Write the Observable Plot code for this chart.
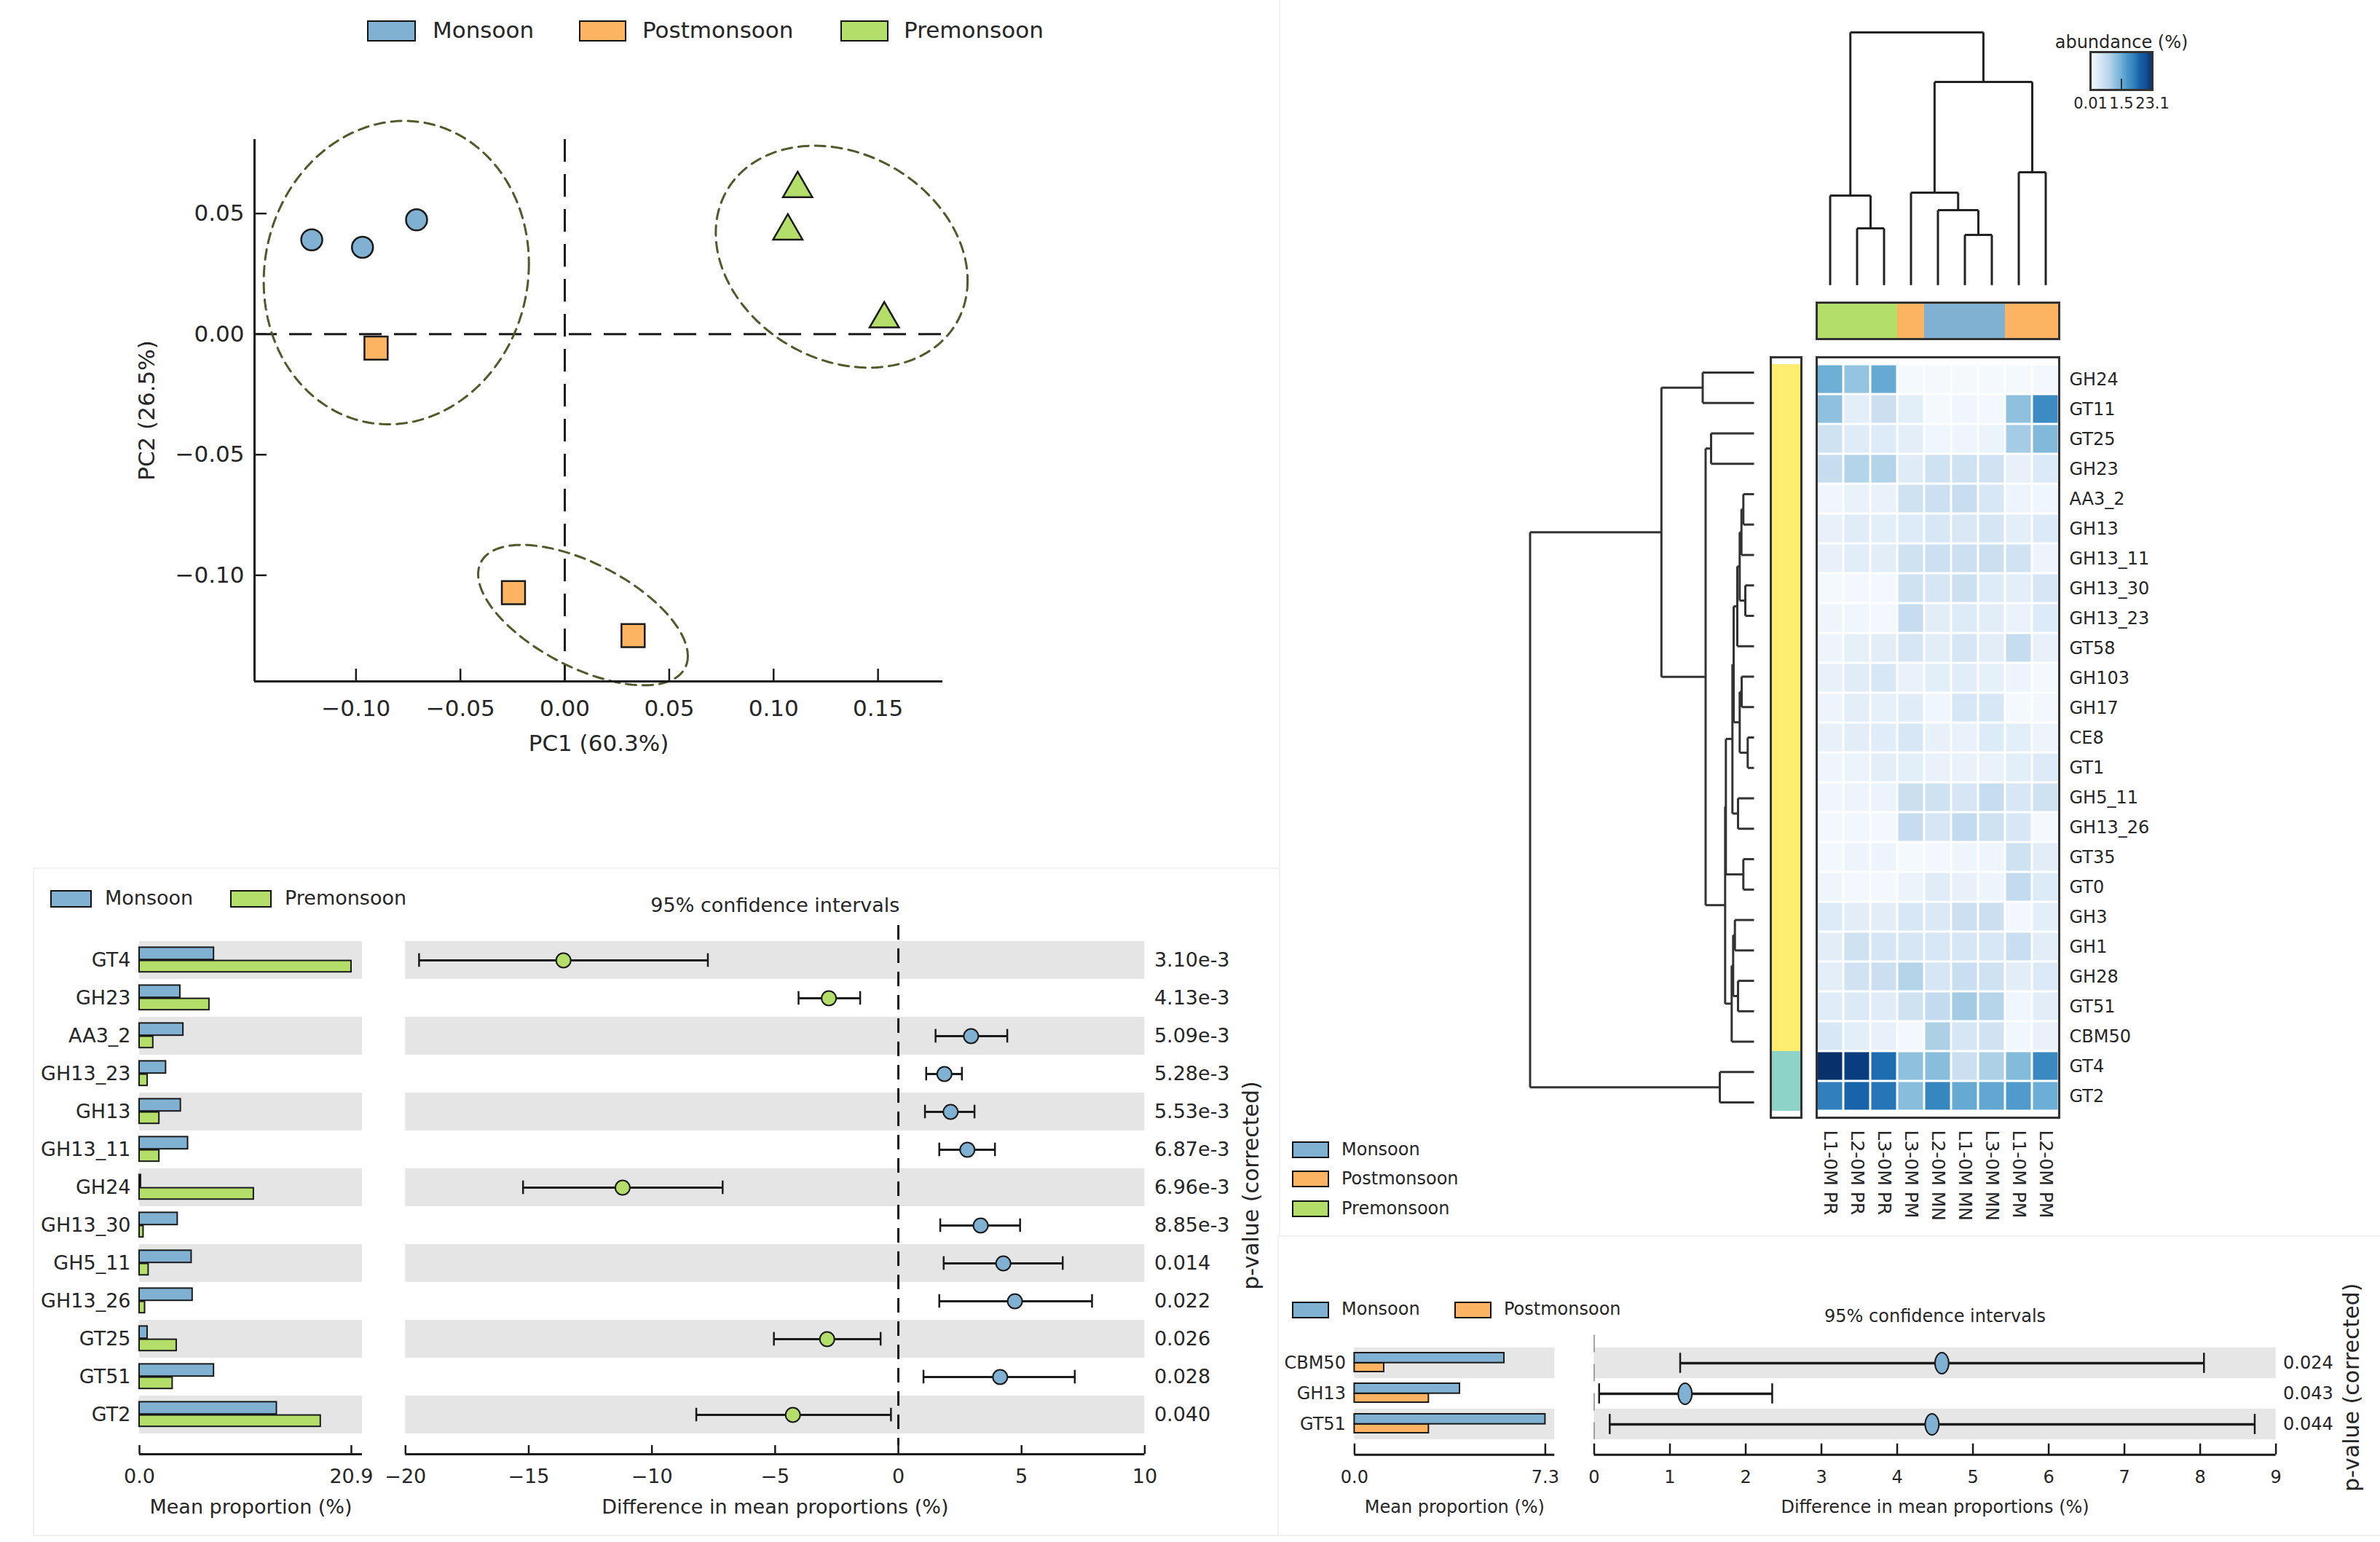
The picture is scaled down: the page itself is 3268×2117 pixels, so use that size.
<!DOCTYPE html>
<html><head><meta charset="utf-8">
<script src="https://cdn.jsdelivr.net/npm/d3@7"></script>
<script src="https://cdn.jsdelivr.net/npm/@observablehq/plot@0.6"></script>
<style>
html,body{margin:0;padding:0;background:#fff;overflow:hidden;}
#page{position:relative;width:3268px;height:2117px;overflow:hidden;font-family:"DejaVu Sans",sans-serif;color:#262626;}
#page svg{position:absolute;left:0;top:0;}
.sw{position:absolute;box-sizing:border-box;border:2.5px solid #111;}
.lt{position:absolute;white-space:nowrap;}
.fl{position:absolute;background:#f1f1f1;}
</style></head><body><div id="page"></div>
<script>
// ================= DATA =================
const seasons = ["Monsoon", "Postmonsoon", "Premonsoon"];
const seasonColors = ["#80b1d3", "#fdb462", "#b3de69"];

// --- PCA ---
const pcaGroup = ["Monsoon","Monsoon","Monsoon","Postmonsoon","Postmonsoon","Postmonsoon","Premonsoon","Premonsoon","Premonsoon"];
const pcaPC1 = [-0.1212, -0.0969, -0.0710, -0.0904, -0.0246, 0.0327, 0.1115, 0.1068, 0.1530];
const pcaPC2 = [0.0391, 0.0360, 0.0474, -0.0058, -0.1072, -0.1250, 0.0603, 0.0427, 0.0063];
const pcaXTicks = [-0.10, -0.05, 0, 0.05, 0.10, 0.15];
const pcaYTicks = [-0.10, -0.05, 0, 0.05];
const pcaXDomain = [-0.1486, 0.181];
const pcaYDomain = [-0.144, 0.0807];
// confidence ellipses: centre, half extents, phase (deg)
const ellCx = [-0.0807, 0.1326, 0.0087];
const ellCy = [0.0255, 0.0321, -0.1165];
const ellRx = [0.0635, 0.0603, 0.0502];
const ellRy = [0.0629, 0.0460, 0.0291];
const ellPhi = [93.4, 77.6, 54.3];

// --- Heatmap ---
const heatCols = ["L1-0M PR","L2-0M PR","L3-0M PR","L3-0M PM","L2-0M MN","L1-0M MN","L3-0M MN","L1-0M PM","L2-0M PM"];
const seasonCode = {PR: "Premonsoon", PM: "Postmonsoon", MN: "Monsoon"};
const heatRows = ["GH24","GT11","GT25","GH23","AA3_2","GH13","GH13_11","GH13_30","GH13_23","GT58","GH103","GH17","CE8","GT1","GH5_11","GH13_26","GT35","GT0","GH3","GH1","GH28","GT51","CBM50","GT4","GT2"];
const rowCluster = ["A","A","A","A","A","A","A","A","A","A","A","A","A","A","A","A","A","A","A","A","A","A","A","B","B"];
const clusterColors = ["#ffed6f", "#8dd3c7"];
const heatValues = [
  [11.5, 9.2, 12.0, 0.4, 0.3, 0.3, 0.4, 0.3, 0.5],
  [9.5, 2.3, 5.0, 2.4, 0.4, 0.9, 0.6, 9.5, 15.0],
  [4.6, 2.8, 3.0, 2.3, 0.9, 1.1, 1.4, 8.1, 10.4],
  [5.5, 7.0, 7.0, 2.8, 4.6, 4.6, 4.4, 1.8, 3.2],
  [0.9, 1.6, 1.6, 4.6, 4.9, 5.3, 3.7, 1.2, 0.9],
  [1.8, 2.7, 2.4, 3.0, 3.6, 3.4, 4.0, 2.3, 3.2],
  [1.8, 2.6, 2.5, 4.6, 4.9, 4.9, 5.0, 4.4, 1.2],
  [0.4, 0.5, 0.5, 4.6, 3.8, 4.9, 3.0, 2.3, 3.8],
  [1.0, 0.9, 0.6, 5.5, 2.5, 3.0, 2.5, 1.5, 3.0],
  [1.2, 2.0, 2.5, 3.8, 2.5, 3.8, 2.5, 5.5, 1.8],
  [1.8, 2.7, 3.6, 1.6, 2.4, 2.6, 2.0, 1.2, 0.4],
  [1.2, 2.3, 2.0, 2.7, 0.9, 3.6, 3.6, 0.4, 0.6],
  [1.8, 2.5, 2.7, 3.6, 1.8, 1.6, 3.0, 2.4, 1.2],
  [1.1, 1.4, 2.3, 2.4, 1.6, 1.6, 1.6, 2.4, 3.0],
  [0.9, 1.2, 1.4, 5.0, 4.6, 3.8, 5.5, 3.6, 4.6],
  [0.6, 0.8, 0.5, 5.5, 3.8, 5.8, 4.6, 3.6, 0.4],
  [0.6, 1.2, 1.2, 0.4, 0.6, 1.0, 1.0, 4.6, 2.5],
  [1.0, 0.6, 0.6, 1.3, 2.7, 1.8, 1.2, 5.8, 3.0],
  [3.0, 2.5, 2.5, 3.6, 3.3, 4.8, 5.0, 0.6, 2.4],
  [2.5, 4.6, 3.8, 3.8, 3.6, 3.8, 3.6, 5.2, 2.5],
  [2.3, 4.4, 5.0, 7.0, 3.8, 5.2, 4.6, 2.5, 3.2],
  [2.7, 3.2, 2.7, 4.6, 5.8, 8.2, 6.8, 0.9, 2.5],
  [3.6, 2.4, 1.8, 0.6, 7.5, 3.8, 4.4, 0.8, 1.6],
  [23.1, 21.9, 17.7, 9.5, 9.9, 5.0, 7.5, 10.2, 15.2],
  [16.0, 18.5, 17.0, 9.9, 15.5, 12.0, 12.3, 13.5, 11.6]
];
const heatDomain = [0.01, 23.1];
const legendTickValues = [0.01, 11.55, 23.1];
const legendTickLabels = ["0.01", "1.5", "23.1"];
// dendrogram merges: [child a, child b, height]; leaves are 0..n-1, new nodes n, n+1, ...
const colMerges = [[1,2,78],[0,9,123],[5,6,69],[4,11,103],[3,12,127],[7,8,155],[13,14,279],[10,15,347]];
const rowMerges = [
  [0,1,70.5],[2,3,59],[4,5,14.7],[27,6,17.3],[7,8,12],[28,29,19.7],[30,9,23],[10,11,17],[12,13,8.7],
  [32,33,19.7],[31,34,28],[14,15,22],[35,36,29.7],[16,17,14.7],[37,38,38.7],[18,19,26.3],[20,21,22],
  [40,41,28.7],[42,22,30.7],[39,43,39.7],[26,44,66.5],[25,45,127.2],[23,24,47],[46,47,307.5]
];

// --- STAMP: Monsoon vs Premonsoon ---
const stampRows = ["GT4","GH23","AA3_2","GH13_23","GH13","GH13_11","GH24","GH13_30","GH5_11","GH13_26","GT25","GT51","GT2"];
const meanMonsoon = [7.34, 4.02, 4.32, 2.61, 4.07, 4.78, 0.14, 3.76, 5.13, 5.23, 0.79, 7.34, 13.54];
const meanPremonsoon = [20.9, 6.89, 1.35, 0.79, 1.95, 1.95, 11.27, 0.39, 0.89, 0.54, 3.66, 3.26, 17.87];
const diffMean = [-13.59, -2.82, 2.95, 1.87, 2.12, 2.80, -11.19, 3.34, 4.26, 4.73, -2.89, 4.13, -4.28];
const ciLow = [-19.45, -4.05, 1.51, 1.13, 1.08, 1.66, -15.23, 1.70, 1.84, 1.66, -5.05, 1.02, -8.20];
const ciHigh = [-7.73, -1.55, 4.42, 2.58, 3.09, 3.92, -7.13, 4.94, 6.67, 7.86, -0.72, 7.16, -0.30];
const pValues = ["3.10e-3","4.13e-3","5.09e-3","5.28e-3","5.53e-3","6.87e-3","6.96e-3","8.85e-3","0.014","0.022","0.026","0.028","0.040"];
const barTicks = [0, 20.9];
const barDomain = [0, 21.98];
const ciTicks = [-20, -15, -10, -5, 0, 5, 10];
const ciDomain = [-20, 10];

// --- STAMP: Monsoon vs Postmonsoon ---
const stamp2Rows = ["CBM50","GH13","GT51"];
const mean2Monsoon = [5.73, 4.03, 7.30];
const mean2Postmonsoon = [1.13, 2.84, 2.84];
const diff2 = [4.59, 1.20, 4.46];
const ci2Low = [1.135, 0.065, 0.205];
const ci2High = [8.05, 2.35, 8.72];
const p2Values = ["0.024","0.043","0.044"];
const bar2Ticks = [0, 7.3];
const bar2Domain = [0, 7.66];
const ci2Ticks = [0, 1, 2, 3, 4, 5, 6, 7, 8, 9];
const ci2Domain = [0, 9];

// ================= HELPERS =================
const FONT = '"DejaVu Sans", "Liberation Sans", sans-serif';
const W = 3268, H = 2117;
const INK = "#1a1a1a";
const page = document.getElementById("page");
const colorOf = s => seasonColors[seasons.indexOf(s)];
function frame(l, t, r, b) { return {marginLeft: l, marginTop: t, marginRight: W - r, marginBottom: H - b}; }
function plot(opts) {
  const svg = Plot.plot({width: W, height: H, ...opts,
    style: {background: "transparent", fontFamily: FONT, color: "#262626", overflow: "visible"}});
  page.appendChild(svg);
  return svg;
}
function legendItem(x, y, w, h, label, textX, fs) {
  const s = document.createElement("div");
  s.className = "sw";
  Object.assign(s.style, {left: x + "px", top: y + "px", width: w + "px", height: h + "px", background: colorOf(label)});
  page.appendChild(s);
  const t = document.createElement("div");
  t.className = "lt";
  t.textContent = label;
  Object.assign(t.style, {left: textX + "px", top: (y + h / 2 - fs * 0.62) + "px", fontSize: fs + "px", lineHeight: (fs * 1.2) + "px"});
  page.appendChild(t);
}
function faint(x, y, w, h) {
  const d = document.createElement("div");
  d.className = "fl";
  Object.assign(d.style, {left: x + "px", top: y + "px", width: w + "px", height: h + "px"});
  page.appendChild(d);
}
function dendroSegments(nLeaves, merges) {
  const pos = d3.range(nLeaves), ht = Array(nLeaves).fill(0), segs = [];
  for (const [a, b, h] of merges) {
    segs.push({p1: pos[a], h1: ht[a], p2: pos[a], h2: h});
    segs.push({p1: pos[a], h1: h, p2: pos[b], h2: h});
    segs.push({p1: pos[b], h1: ht[b], p2: pos[b], h2: h});
    pos.push((pos[a] + pos[b]) / 2);
    ht.push(h);
  }
  return segs;
}
function axisPlot({left, right, y, domain, ticks, format, label, fs, tickLen, pad, labelDy}) {
  plot({...frame(left, y - tickLen, right, y), x: {domain}, y: {domain: [0, 1], axis: null},
    marks: [
      Plot.ruleX(ticks, {stroke: INK, strokeWidth: 2.5}),
      Plot.ruleY([0], {stroke: INK, strokeWidth: 3}),
      Plot.axisX({ticks, tickSize: 0, tickPadding: pad, tickFormat: format, fontSize: fs, label: null}),
      Plot.text([label], {frameAnchor: "bottom", dy: labelDy, fontSize: fs})
    ]});
}
const ellipseSymbol = {
  draw(ctx, size) {
    const r = Math.sqrt(size / Math.PI), rx = r * 0.65, ry = r, k = 0.5523;
    ctx.moveTo(rx, 0);
    ctx.bezierCurveTo(rx, k * ry, k * rx, ry, 0, ry);
    ctx.bezierCurveTo(-k * rx, ry, -rx, k * ry, -rx, 0);
    ctx.bezierCurveTo(-rx, -k * ry, -k * rx, -ry, 0, -ry);
    ctx.bezierCurveTo(k * rx, -ry, rx, -k * ry, rx, 0);
    ctx.closePath();
  }
};

// ================= FAINT PANEL BORDERS =================
faint(1756, 0, 2, 1697);
faint(1756, 1696, 1512, 2);
faint(45, 1191, 1711, 2);
faint(45, 1191, 2, 917);
faint(45, 2107, 3223, 2);
faint(1754, 1696, 2, 412);

// ================= PCA =================
const pcaData = pcaPC1.map((x, i) => ({x, y: pcaPC2[i], g: pcaGroup[i]}));
const ellPts = ellCx.flatMap((cx, k) => d3.range(0, 362, 2).map(a => {
  const t = a * Math.PI / 180;
  return {k, x: cx + ellRx[k] * Math.cos(t), y: ellCy[k] - ellRy[k] * Math.cos(t - ellPhi[k] * Math.PI / 180)};
}));
const fmt2 = d3.format(".2f");
plot({...frame(349, 191, 1294, 935),
  x: {domain: pcaXDomain}, y: {domain: pcaYDomain},
  color: {domain: seasons, range: seasonColors},
  marks: [
    Plot.ruleX([0], {stroke: INK, strokeWidth: 3, strokeDasharray: "31,17"}),
    Plot.ruleY([0], {stroke: INK, strokeWidth: 3, strokeDasharray: "31,17"}),
    Plot.line(ellPts, {x: "x", y: "y", z: "k", stroke: "#4e5a2a", strokeWidth: 3, strokeDasharray: "14,9"}),
    Plot.dot(pcaData, {filter: d => d.g === "Monsoon", x: "x", y: "y", fill: "g", r: 14.5, symbol: "circle", stroke: INK, strokeWidth: 2.5}),
    Plot.dot(pcaData, {filter: d => d.g === "Postmonsoon", x: "x", y: "y", fill: "g", r: 18, symbol: "square", stroke: INK, strokeWidth: 2.5}),
    Plot.dot(pcaData, {filter: d => d.g === "Premonsoon", x: "x", y: "y", fill: "g", r: 15, symbol: "triangle", stroke: INK, strokeWidth: 2.5}),
    Plot.ruleX([pcaXDomain[0]], {stroke: INK, strokeWidth: 3}),
    Plot.ruleY([pcaYDomain[0]], {stroke: INK, strokeWidth: 3}),
    Plot.ruleX(pcaXTicks, {insetTop: 744 - 17, stroke: INK, strokeWidth: 2.5}),
    Plot.ruleY(pcaYTicks, {insetRight: 945 - 17, stroke: INK, strokeWidth: 2.5}),
    Plot.axisX({ticks: pcaXTicks, tickSize: 0, tickPadding: 25, tickFormat: fmt2, fontSize: 31, label: null}),
    Plot.axisY({ticks: pcaYTicks, tickSize: 0, tickPadding: 14, tickFormat: fmt2, fontSize: 31, label: null}),
    Plot.text(["PC1 (60.3%)"], {frameAnchor: "bottom", dy: 95, fontSize: 31}),
    Plot.text(["PC2 (26.5%)"], {frameAnchor: "left", dx: -147, rotate: -90, textAnchor: "middle", fontSize: 31})
  ]});
legendItem(504, 27.5, 67, 29, seasons[0], 594, 31);
legendItem(795, 27.5, 65, 29, seasons[1], 882, 31);
legendItem(1154, 27.5, 66, 29, seasons[2], 1241, 31);

// ================= HEATMAP =================
const heatData = heatRows.flatMap((r, i) => heatCols.map((c, j) => ({row: r, col: c, v: heatValues[i][j]})));
const heatColor = {type: "linear", domain: heatDomain, scheme: "blues"};
plot({...frame(2494, 490, 2827, 1534),
  x: {type: "band", domain: heatCols, padding: 0},
  y: {type: "band", domain: heatRows, padding: 0},
  color: heatColor,
  marks: [
    Plot.cell(heatData, {x: "col", y: "row", fill: "v", inset: 1.5}),
    Plot.frame({stroke: "#333", strokeWidth: 3}),
    Plot.axisY({anchor: "right", tickSize: 0, tickPadding: 14, fontSize: 24, label: null}),
    Plot.axisX({anchor: "bottom", tickSize: 0, tickPadding: 17, tickRotate: 90, fontSize: 25, label: null})
  ]});
// column season bar
plot({...frame(2494, 415, 2827, 465),
  x: {type: "band", domain: heatCols, padding: 0, axis: null},
  color: {domain: seasons, range: seasonColors},
  marks: [
    Plot.cell(heatCols, {x: d => d, fill: d => seasonCode[d.slice(-2)]}),
    Plot.frame({stroke: "#333", strokeWidth: 3})
  ]});
// row cluster bar
plot({...frame(2431, 490, 2473, 1534),
  y: {type: "band", domain: heatRows, padding: 0, axis: null},
  color: {domain: ["A", "B"], range: clusterColors},
  marks: [
    Plot.cell(heatRows, {y: d => d, fill: (d, i) => rowCluster[i]}),
    Plot.frame({stroke: "#333", strokeWidth: 3})
  ]});
// column dendrogram
plot({...frame(2494, 44, 2827, 391),
  x: {domain: [-0.5, heatCols.length - 0.5], axis: null},
  y: {domain: [0, d3.max(colMerges, d => d[2])], axis: null},
  marks: [Plot.link(dendroSegments(heatCols.length, colMerges), {x1: "p1", y1: "h1", x2: "p2", y2: "h2", stroke: "#222", strokeWidth: 3})]});
// row dendrogram
plot({...frame(2100.5, 490, 2408, 1534),
  x: {domain: [0, d3.max(rowMerges, d => d[2])], reverse: true, axis: null},
  y: {domain: [-0.5, heatRows.length - 0.5], reverse: true, axis: null},
  marks: [Plot.link(dendroSegments(heatRows.length, rowMerges), {x1: "h1", y1: "p1", x2: "h2", y2: "p2", stroke: "#333", strokeWidth: 3})]});
// color legend
const ramp = d3.range(90).map(i => ({
  a: heatDomain[0] + (heatDomain[1] - heatDomain[0]) * i / 90,
  b: heatDomain[0] + (heatDomain[1] - heatDomain[0]) * (i + 1) / 90
}));
plot({...frame(2870, 71, 2955, 123),
  x: {domain: heatDomain, axis: null}, y: {domain: [0, 1], axis: null},
  color: heatColor,
  marks: [
    Plot.rect(ramp, {x1: "a", x2: "b", y1: 0, y2: 1, fill: d => (d.a + d.b) / 2, stroke: d => (d.a + d.b) / 2, strokeWidth: 0.6}),
    Plot.frame({stroke: "#333", strokeWidth: 3}),
    Plot.ruleX([legendTickValues[1]], {insetTop: 52 - 15, stroke: "#333", strokeWidth: 2}),
    Plot.text(legendTickValues, {x: d => d, text: (d, i) => legendTickLabels[i], frameAnchor: "bottom", dy: 25, fontSize: 21}),
    Plot.text(["abundance (%)"], {frameAnchor: "top", dy: -23, fontSize: 24})
  ]});
legendItem(1774, 1567, 51, 23, seasons[0], 1842, 24);
legendItem(1774, 1607, 51, 23, seasons[1], 1842, 24);
legendItem(1774, 1648, 51, 23, seasons[2], 1842, 24);

// ================= STAMP: Monsoon vs Premonsoon =================
const stampData = stampRows.map((name, i) => ({name, m: meanMonsoon[i], p: meanPremonsoon[i], d: diffMean[i], lo: ciLow[i], hi: ciHigh[i], pv: pValues[i]}));
const evenRows = stampRows.filter((d, i) => i % 2 === 0);
const rowRange1 = [1289.4, 1970];
plot({...frame(191, 1289.4, 497, 1970),
  x: {domain: barDomain, axis: null}, y: {type: "band", domain: stampRows, padding: 0},
  marks: [
    Plot.cell(evenRows, {y: d => d, fill: "#e5e5e5"}),
    Plot.barX(stampData, {y: "name", x: "m", fill: colorOf("Monsoon"), stroke: INK, strokeWidth: 2, insetTop: 8.4, insetBottom: 26.8}),
    Plot.barX(stampData, {y: "name", x: "p", fill: colorOf("Premonsoon"), stroke: INK, strokeWidth: 2, insetTop: 26.6, insetBottom: 9.8}),
    Plot.axisY({tickSize: 0, tickPadding: 12, fontSize: 27, label: null})
  ]});
axisPlot({left: 191, right: 497, y: 1996, domain: barDomain, ticks: barTicks, format: d3.format(".1f"),
  label: "Mean proportion (%)", fs: 27, tickLen: 12, pad: 20, labelDy: 81});
plot({...frame(556.3, 1270, 1571.4, 1984),
  x: {domain: ciDomain, axis: null}, y: {type: "band", domain: stampRows, padding: 0, range: rowRange1, axis: null},
  marks: [
    Plot.cell(evenRows, {y: d => d, fill: "#e5e5e5"}),
    Plot.ruleX([0], {stroke: INK, strokeWidth: 3, strokeDasharray: "20,12"}),
    Plot.ruleY(stampData, {y: "name", x1: "lo", x2: "hi", stroke: INK, strokeWidth: 3}),
    Plot.tickX(stampData, {y: "name", x: "lo", stroke: INK, strokeWidth: 2.5, insetTop: 16.7, insetBottom: 16.7}),
    Plot.tickX(stampData, {y: "name", x: "hi", stroke: INK, strokeWidth: 2.5, insetTop: 16.7, insetBottom: 16.7}),
    Plot.dot(stampData, {y: "name", x: "d", r: 10, fill: d => d.d < 0 ? colorOf("Premonsoon") : colorOf("Monsoon"), stroke: INK, strokeWidth: 2}),
    Plot.text(stampData, {y: "name", text: "pv", frameAnchor: "right", dx: 13, textAnchor: "start", fontSize: 27}),
    Plot.text(["95% confidence intervals"], {frameAnchor: "top", dy: -38, fontSize: 27}),
    Plot.text(["p-value (corrected)"], {frameAnchor: "right", dx: 146, rotate: -90, textAnchor: "middle", fontSize: 30})
  ]});
axisPlot({left: 556.3, right: 1571.4, y: 1996, domain: ciDomain, ticks: ciTicks, format: d3.format("d"),
  label: "Difference in mean proportions (%)", fs: 27, tickLen: 12, pad: 20, labelDy: 81});
legendItem(69, 1222, 57, 24, seasons[0], 144, 27);
legendItem(316, 1222, 57, 24, seasons[2], 391, 27);

// ================= STAMP: Monsoon vs Postmonsoon =================
const stamp2Data = stamp2Rows.map((name, i) => ({name, m: mean2Monsoon[i], p: mean2Postmonsoon[i], d: diff2[i], lo: ci2Low[i], hi: ci2High[i], pv: p2Values[i]}));
const even2Rows = stamp2Rows.filter((d, i) => i % 2 === 0);
const rowRange2 = [1849, 1976];
plot({...frame(1859.4, 1849, 2134.3, 1976),
  x: {domain: bar2Domain, axis: null}, y: {type: "band", domain: stamp2Rows, padding: 0},
  marks: [
    Plot.cell(even2Rows, {y: d => d, fill: "#e6e6e6"}),
    Plot.barX(stamp2Data, {y: "name", x: "m", fill: colorOf("Monsoon"), stroke: INK, strokeWidth: 2, insetTop: 7, insetBottom: 21.3}),
    Plot.barX(stamp2Data, {y: "name", x: "p", fill: colorOf("Postmonsoon"), stroke: INK, strokeWidth: 2, insetTop: 21, insetBottom: 9}),
    Plot.axisY({tickSize: 0, tickPadding: 12, fontSize: 24, label: null})
  ]});
axisPlot({left: 1859.4, right: 2134.3, y: 1996.7, domain: bar2Domain, ticks: bar2Ticks, format: d3.format(".1f"),
  label: "Mean proportion (%)", fs: 24, tickLen: 15, pad: 22, labelDy: 80});
plot({...frame(2188.5, 1832.5, 3124.6, 1976),
  x: {domain: ci2Domain, axis: null}, y: {type: "band", domain: stamp2Rows, padding: 0, range: rowRange2, axis: null},
  marks: [
    Plot.cell(even2Rows, {y: d => d, fill: "#e6e6e6"}),
    Plot.ruleX([0], {stroke: "#888", strokeWidth: 1.5, strokeDasharray: "24,16"}),
    Plot.ruleY(stamp2Data, {y: "name", x1: "lo", x2: "hi", stroke: INK, strokeWidth: 3.5}),
    Plot.tickX(stamp2Data, {y: "name", x: "lo", stroke: INK, strokeWidth: 2.5, insetTop: 7.2, insetBottom: 7.2}),
    Plot.tickX(stamp2Data, {y: "name", x: "hi", stroke: INK, strokeWidth: 2.5, insetTop: 7.2, insetBottom: 7.2}),
    Plot.dot(stamp2Data, {y: "name", x: "d", r: 14.5, symbol: ellipseSymbol, fill: colorOf("Monsoon"), stroke: INK, strokeWidth: 2}),
    Plot.text(stamp2Data, {y: "name", text: "pv", frameAnchor: "right", dx: 10, textAnchor: "start", fontSize: 24}),
    Plot.text(["95% confidence intervals"], {frameAnchor: "top", dy: -35.5, fontSize: 24}),
    Plot.text(["p-value (corrected)"], {frameAnchor: "right", dx: 104, rotate: -90, textAnchor: "middle", fontSize: 30})
  ]});
axisPlot({left: 2188.5, right: 3124.6, y: 1996.7, domain: ci2Domain, ticks: ci2Ticks, format: d3.format("d"),
  label: "Difference in mean proportions (%)", fs: 24, tickLen: 15, pad: 22, labelDy: 80});
legendItem(1774, 1786.5, 51, 23.5, seasons[0], 1842, 24);
legendItem(1997, 1786.5, 51, 23.5, seasons[1], 2065, 24);
</script></body></html>
